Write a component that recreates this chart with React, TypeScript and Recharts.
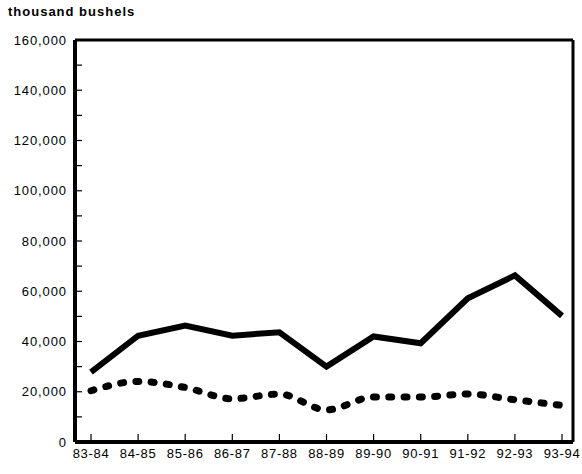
import React from 'react';
import { Line, LineChart, XAxis, YAxis } from 'recharts';

const seasons = ['83-84', '84-85', '85-86', '86-87', '87-88', '88-89', '89-90', '90-91', '91-92', '92-93', '93-94'];
const solidSeries = [27800, 42300, 46300, 42300, 43700, 30000, 42000, 39300, 57200, 66300, 50200];
const dottedSeries = [20400, 24100, 21700, 17200, 19100, 12800, 17900, 17900, 19100, 16800, 14600];
const yTicks = [0, 10000, 20000, 30000, 40000, 50000, 60000, 70000, 80000, 90000, 100000, 110000, 120000, 130000, 140000, 150000, 160000];

const data = seasons.map((season, i) => ({ season, solid: solidSeries[i], dotted: dottedSeries[i] }));

const FONT = '"Liberation Sans", Arial, sans-serif';
const Y_MARGIN = 8;
const X_MARGIN = 7;

function YTick(props: any) {
  const { x, y, payload } = props;
  const axisX = x + Y_MARGIN;
  const labelled = payload.value % 20000 === 0;
  return (
    <g>
      {payload.value > 0 && payload.value < 160000 && (
        <line x1={axisX} x2={axisX + 7} y1={y} y2={y} stroke="#000" strokeWidth={1.2} />
      )}
      {labelled && (
        <text x={x} y={y} dy="0.355em" textAnchor="end" fontSize={13} letterSpacing={0.9} fontFamily={FONT} fill="#000">
          {payload.value.toLocaleString('en-US')}
        </text>
      )}
    </g>
  );
}

function XTick(props: any) {
  const { x, y, payload } = props;
  const axisY = y - X_MARGIN;
  return (
    <g>
      <line x1={x} x2={x} y1={axisY} y2={axisY - 8} stroke="#000" strokeWidth={1.2} />
      <text x={x} y={y} dy="0.71em" textAnchor="middle" fontSize={13} letterSpacing={0.7} fontFamily={FONT} fill="#000">
        {payload.value}
      </text>
    </g>
  );
}

export default function App() {
  return (
    <div style={{ position: 'absolute', left: 0, top: 0, width: 582, height: 474, background: '#fff' }}>
      <div
        style={{
          position: 'absolute',
          left: 8,
          top: 5,
          fontFamily: FONT,
          fontWeight: 'bold',
          fontSize: 13,
          lineHeight: '13px',
          letterSpacing: 1,
          color: '#000',
        }}
      >
        thousand bushels
      </div>
      <LineChart width={582} height={474} data={data} margin={{ top: 39, right: 8, bottom: 2, left: 0 }}>
        <XAxis
          xAxisId="main"
          dataKey="season"
          interval={0}
          height={30}
          padding={{ left: 16, right: 11 }}
          tickSize={0}
          tickMargin={X_MARGIN}
          tick={<XTick />}
          axisLine={{ stroke: '#000', strokeWidth: 4 }}
        />
        <XAxis
          xAxisId="top"
          orientation="top"
          dataKey="season"
          height={1}
          tick={false}
          tickLine={false}
          axisLine={{ stroke: '#000', strokeWidth: 3 }}
        />
        <YAxis
          yAxisId="main"
          domain={[0, 160000]}
          ticks={yTicks}
          interval={0}
          width={75}
          tickSize={0}
          tickMargin={Y_MARGIN}
          tick={<YTick />}
          axisLine={{ stroke: '#000', strokeWidth: 4 }}
        />
        <YAxis
          yAxisId="right"
          orientation="right"
          domain={[0, 160000]}
          width={1}
          tick={false}
          tickLine={false}
          axisLine={{ stroke: '#000', strokeWidth: 3 }}
        />
        <Line
          xAxisId="main"
          yAxisId="main"
          type="linear"
          dataKey="solid"
          stroke="#000"
          strokeWidth={6}
          strokeLinejoin="miter"
          dot={false}
          isAnimationActive={false}
        />
        <Line
          xAxisId="main"
          yAxisId="main"
          type="monotone"
          dataKey="dotted"
          stroke="#000"
          strokeWidth={7}
          strokeDasharray="3 12.3"
          strokeLinecap="round"
          dot={false}
          isAnimationActive={false}
        />
      </LineChart>
    </div>
  );
}
